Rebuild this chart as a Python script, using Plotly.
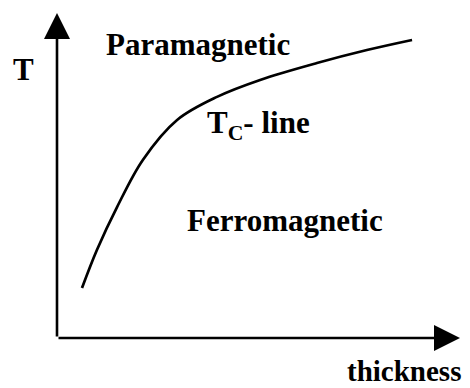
import plotly.graph_objects as go

# Schematic Tc-line (arbitrary units)
thickness = [0.62, 0.99, 1.49, 2.13, 2.98, 3.97, 5.04, 6.45, 7.69, 8.81]
tc_line = [1.54, 2.71, 4.03, 5.48, 6.71, 7.42, 7.94, 8.46, 8.86, 9.17]

x_range = [0, 10]
y_range = [0, 10]

FONT = "Liberation Serif"
FS = 31

fig = go.Figure()
fig.add_trace(go.Scatter(
    x=thickness, y=tc_line, mode="lines",
    line=dict(color="black", width=2.7, shape="spline", smoothing=1.0),
    hoverinfo="skip", showlegend=False,
))

# axis arrows
arrow = dict(xref="x", yref="y", axref="x", ayref="y", text="", showarrow=True,
             arrowhead=2, arrowsize=2.0, arrowwidth=2.6, arrowcolor="black",
             standoff=0, startstandoff=0)
fig.add_annotation(x=x_range[0], y=y_range[1], ax=x_range[0], ay=y_range[0], **arrow)
fig.add_annotation(x=x_range[1], y=y_range[0], ax=x_range[0], ay=y_range[0], **arrow)

def label(text, x, y, xanchor="center", ref="x", size=FS):
    fig.add_annotation(x=x, y=y,
                       xref="x" if ref == "x" else "paper",
                       yref="y" if ref == "x" else "paper",
                       text=text, showarrow=False,
                       xanchor=xanchor, yanchor="middle",
                       font=dict(family=FONT, size=size, color="black"))

label("<b>Paramagnetic</b>", 3.50, 9.02)
label("<b>Ferromagnetic</b>", 5.66, 3.63)
label("<b>T<sub>C</sub>- line</b>", 3.68, 6.55, xanchor="left")
label("<b>T</b>", -0.084, 0.825, ref="paper")
label("<b>thickness</b>", 0.862, -0.100, ref="paper", size=29)

fig.update_xaxes(range=x_range, visible=False)
fig.update_yaxes(range=y_range, visible=False)
fig.update_layout(
    width=462, height=380,
    margin=dict(l=49, r=10, t=5, b=50),
    paper_bgcolor="white", plot_bgcolor="white",
)
fig.write_html("out.html")
